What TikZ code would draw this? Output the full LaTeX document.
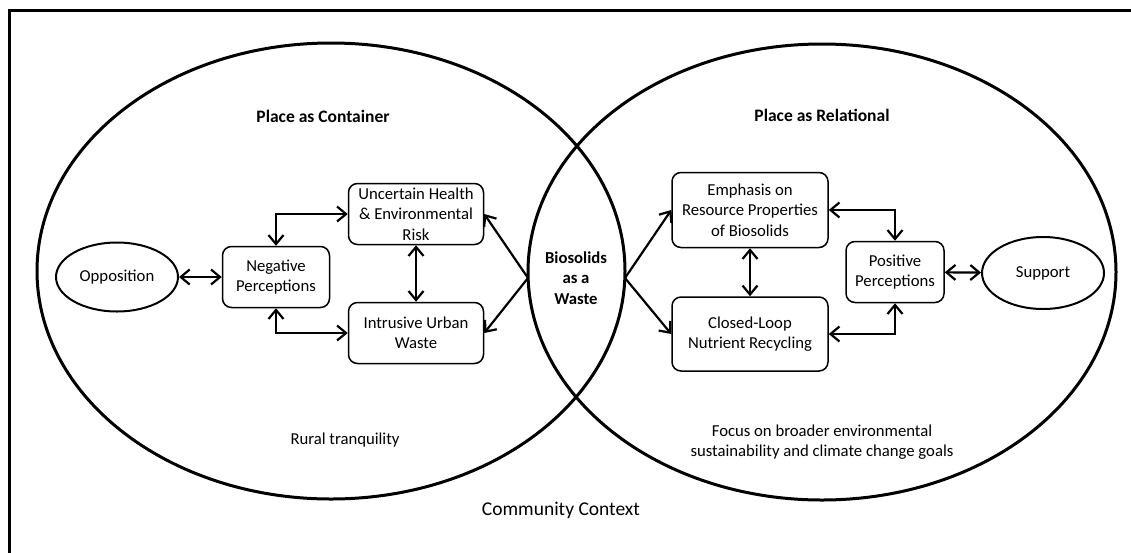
\documentclass[tikz,border=0pt]{standalone}
\usepackage{fontspec}
\setmainfont{Carlito}
\usetikzlibrary{arrows.meta,shapes.geometric}
\begin{document}
\begin{tikzpicture}[x=1pt,y=-1pt,
  txt/.style={font=\fontsize{16.7}{20.4}\selectfont, align=center, inner sep=0pt},
  title/.style={font=\fontsize{17.5}{21}\selectfont\bfseries, inner sep=0pt},
  box/.style={txt, draw, line width=1.5pt, rounded corners=9pt},
  oval/.style={txt, draw, ellipse, line width=2pt},
  region/.style={line width=3pt},
  tip/.tip={Straight Barb[length=9pt,width=15pt]},
  link/.style={line width=2.2pt, -tip},
  dlink/.style={line width=2.2pt, tip-tip},
]
\clip (0,0) rectangle (1131,552);
\fill[white] (0,0) rectangle (1131,552);

% outer frame (runs past the page on the right and at the bottom)
\draw[line width=2.7pt] (9.5,600) -- (9.5,10.5) -- (1200,10.5);

% the two overlapping places
\draw[region] (331,271) ellipse [x radius=294, y radius=228];
\draw[region] (822,272) ellipse [x radius=294, y radius=228];
\coordinate (lensL) at (528,278);
\coordinate (lensR) at (625,278);

% titles and notes
\node[title] (t1) at (323,116) {Place as Container};
\node[title] (t2) at (822,115) {Place as Relational};
\node[txt] (rural) at (345,440) {Rural tranquility};
\node[txt] (focus) at (822,442) {Focus on broader environmental\\ sustainability and climate change goals};
\node[font=\fontsize{19.5}{23}\selectfont, inner sep=0pt] (comm) at (561,510) {Community Context};

% left side
\node[oval, minimum width=122pt, minimum height=69pt] (opp) at (117,277) {Opposition};
\node[box, minimum width=107pt, minimum height=61pt] (neg) at (276,277) {Negative\\ Perceptions};
\node[box, minimum width=135pt, minimum height=61pt] (unc) at (416,214) {Uncertain Health\\ \& Environmental\\ Risk};
\node[box, minimum width=135pt, minimum height=61pt] (intr) at (416,333) {Intrusive Urban\\ Waste};

% shared centre
\node[txt, font=\fontsize{16.7}{20.4}\selectfont\bfseries] (lens) at (576,278) {Biosolids\\ as a\\ Waste};

% right side
\node[box, minimum width=156pt, minimum height=75pt] (emph) at (750,210) {Emphasis on\\ Resource Properties\\ of Biosolids};
\node[box, minimum width=156pt, minimum height=74pt] (clos) at (750,334) {Closed-Loop\\ Nutrient Recycling};
\node[box, minimum width=98pt, minimum height=61pt] (pos) at (895,272) {Positive\\ Perceptions};
\node[oval, minimum width=122pt, minimum height=72pt] (sup) at (1043,273) {Support};

% connectors
\draw[dlink] (opp) -- (neg);
\draw[dlink] (neg.north) |- (unc.west);
\draw[dlink] (neg.south) |- (intr.west);
\draw[dlink] (unc) -- (intr);
\draw[link] (lensL) -- (unc.east);
\draw[link] (lensL) -- (intr.east);
\draw[link] (lensR) -- (emph.west);
\draw[link] (lensR) -- (clos.west);
\draw[dlink] (emph) -- (clos);
\draw[dlink] (pos.north) |- (emph.east);
\draw[dlink] (pos.south) |- (clos.east);
\draw[dlink] (pos) -- (sup);
\end{tikzpicture}
\end{document}
